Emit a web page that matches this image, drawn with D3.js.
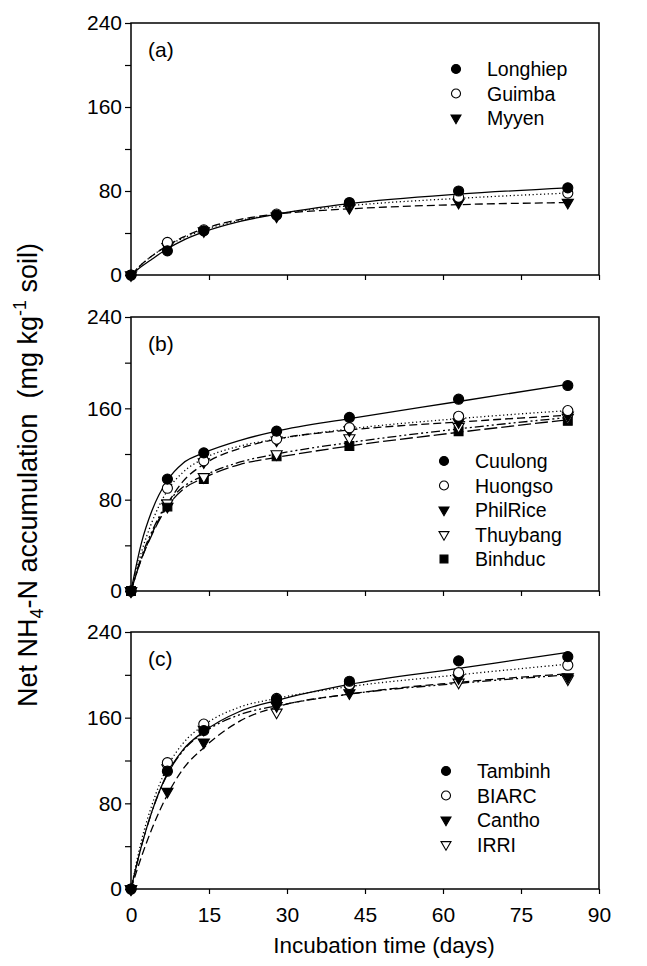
<!DOCTYPE html>
<html>
<head>
<meta charset="utf-8">
<script src="https://cdn.jsdelivr.net/npm/d3@7"></script>
<style>
	body { margin: 0; background: #fff; }
	svg { font-family: 'Liberation Sans', Arial, sans-serif; }
</style>
</head>
<body>
<div id="chart"></div>
<script>
// sampling days and axis ticks
const days = [0, 7, 14, 28, 42, 63, 84]
const fitDays = [0, 2, 4, 7, 10, 14, 21, 28, 42, 63, 84]
const xTicks = [0, 15, 30, 45, 60, 75, 90]
const yTicks = [0, 40, 80, 120, 160, 200, 240]
const yTickLabels = [0, 80, 160, 240]

// (a)
const namesA = ['Longhiep', 'Guimba', 'Myyen']
const longhiep = [0, 23, 42, 57, 69, 80, 83]
const guimba = [0, 31, 43, 58, 68, 74, 78]
const myyen = [0, 27, 42, 56, 64, 69, 69]
const longhiepFit = [0, 8, 15, 25, 33, 41, 51, 58, 68, 77, 83]
const guimbaFit = [0, 10, 18, 28, 35, 43, 52, 58, 66, 73, 78]
const myyenFit = [0, 10, 18, 28, 36, 44, 53, 58, 63, 67, 69]

// (b)
const namesB = ['Cuulong', 'Huongso', 'PhilRice', 'Thuybang', 'Binhduc']
const cuulong = [0, 98, 121, 140, 152, 168, 180]
const huongso = [0, 90, 114, 133, 143, 153, 158]
const philrice = [0, 74, 113, 132, 141, 148, 154]
const thuybang = [0, 77, 100, 120, 134, 144, 152]
const binhduc = [0, 74, 98, 118, 127, 140, 149]
const cuulongFit = [0, 42, 70, 97, 112, 121, 132, 140, 151, 166, 181]
const huongsoFit = [0, 34, 60, 88, 104, 116, 127, 133, 142, 151, 158]
const philriceFit = [0, 28, 50, 76, 96, 111, 125, 133, 141, 148, 154]
const thuybangFit = [0, 30, 52, 77, 91, 101, 113, 120, 130, 142, 152]
const binhducFit = [0, 28, 49, 74, 89, 99, 111, 117, 127, 139, 150]

// (c)
const namesC = ['Tambinh', 'BIARC', 'Cantho', 'IRRI']
const tambinh = [0, 110, 148, 177, 194, 213, 217]
const biarc = [0, 118, 154, 178, 191, 202, 209]
const cantho = [0, 91, 137, 171, 183, 197, 198]
const irri = [0, 113, 149, 165, 187, 193, 196]
const tambinhFit = [0, 40, 72, 108, 130, 147, 166, 176, 191, 206, 221]
const biarcFit = [0, 45, 78, 114, 136, 153, 170, 178, 189, 200, 210]
const canthoFit = [0, 30, 56, 88, 112, 132, 157, 170, 182, 193, 201]
const irriFit = [0, 40, 72, 107, 129, 146, 163, 171, 182, 192, 200]

const width = 647
const height = 966
const left = 131
const right = 599

const dashes = {
	solid: null,
	dot: '1.2,2.6',
	dash: '8,4',
	dashdot: '9,3,2,3,2,3',
	longdash: '13,4'
}

const panels = [
	{
		tag: '(a)', top: 23, bottom: 275, legendX: 456, legendY: 69,
		series: [
			{ name: namesA[0], values: longhiep, fit: longhiepFit, symbol: 'circle', filled: true, dash: 'solid' },
			{ name: namesA[1], values: guimba, fit: guimbaFit, symbol: 'circle', filled: false, dash: 'dot' },
			{ name: namesA[2], values: myyen, fit: myyenFit, symbol: 'triangle', filled: true, dash: 'dash' }
		]
	},
	{
		tag: '(b)', top: 317, bottom: 591, legendX: 444, legendY: 461,
		series: [
			{ name: namesB[0], values: cuulong, fit: cuulongFit, symbol: 'circle', filled: true, dash: 'solid' },
			{ name: namesB[1], values: huongso, fit: huongsoFit, symbol: 'circle', filled: false, dash: 'dot' },
			{ name: namesB[2], values: philrice, fit: philriceFit, symbol: 'triangle', filled: true, dash: 'dash' },
			{ name: namesB[3], values: thuybang, fit: thuybangFit, symbol: 'triangle', filled: false, dash: 'dashdot' },
			{ name: namesB[4], values: binhduc, fit: binhducFit, symbol: 'square', filled: true, dash: 'longdash' }
		]
	},
	{
		tag: '(c)', top: 632, bottom: 889, legendX: 446, legendY: 771,
		series: [
			{ name: namesC[0], values: tambinh, fit: tambinhFit, symbol: 'circle', filled: true, dash: 'solid' },
			{ name: namesC[1], values: biarc, fit: biarcFit, symbol: 'circle', filled: false, dash: 'dot' },
			{ name: namesC[2], values: cantho, fit: canthoFit, symbol: 'triangle', filled: true, dash: 'dash' },
			{ name: namesC[3], values: irri, fit: irriFit, symbol: 'triangle', filled: false, dash: 'dashdot' }
		]
	}
]

const svg = d3.select('#chart')
	.append('svg')
	.attr('width', width)
	.attr('height', height)

const x = d3.scaleLinear().domain([0, 90]).range([left, right])

const symbolPath = (type, size) => {
	if (type === 'circle') return d3.symbol(d3.symbolCircle, size)()
	if (type === 'square') return d3.symbol(d3.symbolSquare, size)()
	return d3.symbol(d3.symbolTriangle, size)()
}

const drawMarker = (g, s, px, py, scale) => {
	const size = s.symbol === 'circle' ? 80 * scale : s.symbol === 'square' ? 78 * scale : 54 * scale
	g.append('path')
		.attr('d', symbolPath(s.symbol, size))
		.attr('transform', `translate(${px},${py})` + (s.symbol === 'triangle' ? ' rotate(180)' : ''))
		.attr('fill', s.filled ? '#000' : '#fff')
		.attr('stroke', '#000')
		.attr('stroke-width', 1.1)
}

panels.forEach((p, i) => {
	const y = d3.scaleLinear().domain([0, 240]).range([p.bottom, p.top])
	const g = svg.append('g').attr('class', 'panel')

	// frame
	g.append('rect')
		.attr('x', left)
		.attr('y', p.top)
		.attr('width', right - left)
		.attr('height', p.bottom - p.top)
		.attr('fill', 'none')
		.attr('stroke', '#000')
		.attr('stroke-width', 1.5)

	// y axis
	const yAxis = d3.axisLeft(y)
		.tickValues(yTicks)
		.tickSize(6)
		.tickFormat(d => yTickLabels.includes(d) ? d : '')
	const ya = g.append('g')
		.attr('transform', `translate(${left},0)`)
		.call(yAxis)
	ya.select('.domain').remove()
	ya.selectAll('line').attr('stroke-width', 1.2)
	ya.selectAll('text')
		.attr('x', -9)
		.attr('font-size', 21)
		.attr('font-family', "'Liberation Sans', Arial, sans-serif")
		.attr('fill', '#000')

	// x axis
	const xAxis = d3.axisBottom(x)
		.tickValues(xTicks)
		.tickSize(5)
		.tickFormat(d => i === 2 ? d : '')
	const xa = g.append('g')
		.attr('transform', `translate(0,${p.bottom})`)
		.call(xAxis)
	xa.select('.domain').remove()
	xa.selectAll('line').attr('stroke-width', 1.2)
	xa.selectAll('text')
		.attr('y', 18)
		.attr('font-size', 21)
		.attr('font-family', "'Liberation Sans', Arial, sans-serif")
		.attr('fill', '#000')

	// fitted curves
	const line = d3.line()
		.x((d, j) => x(fitDays[j]))
		.y(d => y(d))
		.curve(d3.curveMonotoneX)

	g.selectAll('.fit')
		.data(p.series)
		.join('path')
		.attr('class', 'fit')
		.attr('d', s => line(s.fit))
		.attr('fill', 'none')
		.attr('stroke', '#000')
		.attr('stroke-width', 1.3)
		.attr('stroke-dasharray', s => dashes[s.dash])

	// observed points, last series drawn first so the first stays on top
	p.series.slice().reverse().forEach(s => {
		s.values.forEach((v, j) => drawMarker(g, s, x(days[j]), y(v), 1))
	})

	// panel tag
	g.append('text')
		.attr('x', 148)
		.attr('y', p.top + 34)
		.attr('font-size', 21)
		.text(p.tag)

	// legend
	const lg = g.append('g').attr('transform', `translate(${p.legendX},${p.legendY})`)
	p.series.forEach((s, j) => {
		drawMarker(lg, s, 0, j * 24.5, 0.8)
		lg.append('text')
			.attr('x', 31)
			.attr('y', j * 24.5 + 7)
			.attr('font-size', 19.5)
			.text(s.name)
	})
})

// axis titles
svg.append('text')
	.attr('x', 384)
	.attr('y', 953)
	.attr('text-anchor', 'middle')
	.attr('font-size', 22.5)
	.text('Incubation time (days)')

const yTitle = svg.append('text')
	.attr('transform', 'translate(37,475) rotate(-90)')
	.attr('text-anchor', 'middle')
	.attr('font-size', 27)
yTitle.append('tspan').text('Net NH')
yTitle.append('tspan').attr('font-size', 18).attr('dy', 6).text('4')
yTitle.append('tspan').attr('dy', -6).text('-N accumulation\u00a0 (mg kg')
yTitle.append('tspan').attr('font-size', 18).attr('dy', -11).text('-1')
yTitle.append('tspan').attr('dy', 11).text(' soil)')
</script>
</body>
</html>
